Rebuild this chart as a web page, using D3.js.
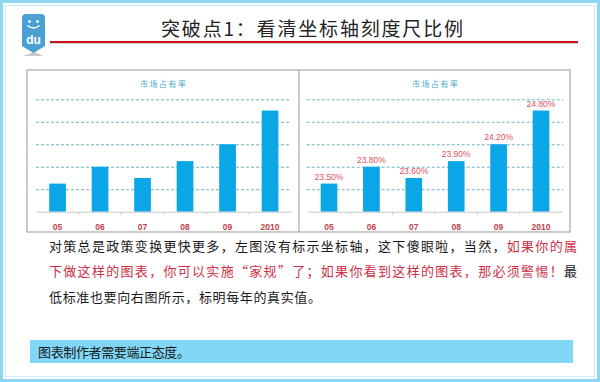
<!DOCTYPE html>
<html><head><meta charset="utf-8">
<script src="https://cdn.jsdelivr.net/npm/d3@7"></script>
<style>
html,body{margin:0;padding:0;background:#fff;}
svg{display:block;font-family:"Noto Sans CJK SC","Noto Sans",sans-serif;}
</style></head>
<body>
<svg id="c" width="600" height="382"></svg>
<script>
// ---- data ----
const categories = ["05","06","07","08","09","2010"];
const shareValues = [23.5, 23.8, 23.6, 23.9, 24.2, 24.8];
const valueLabels = ["23.50%","23.80%","23.60%","23.90%","24.20%","24.80%"];
const gridTicks = [23.4, 23.8, 24.2, 24.6, 25.0];
const yDomain = [23, 25];
const pageTitle = "突破点1：看清坐标轴刻度尺比例";
const chartTitle = "市场占有率";
const paragraph = [
  [["对策总是政策变换更快更多，左图没有标示坐标轴，这下傻眼啦，当然，","k"],["如果你的属","r"]],
  [["下做这样的图表，你可以实施“家规”了；如果你看到这样的图表，那必须警惕！","r"],["最","k"]],
  [["低标准也要向右图所示，标明每年的真实值。","k"]]
];
const noteText = "图表制作者需要端正态度。";

const svg = d3.select("#c");

// outer frame
svg.append("rect").attr("x",1.5).attr("y",1.5).attr("width",597).attr("height",379)
  .attr("fill","none").attr("stroke","#8fd6f2").attr("stroke-width",3);
svg.append("rect").attr("x",5.5).attr("y",5.5).attr("width",589).attr("height",371)
  .attr("fill","none").attr("stroke","#c4ecfa").attr("stroke-width",1);

// logo
const logo = svg.append("g");
logo.append("path").attr("d","M23,56 L33.5,52 L44,56 Z").attr("fill","#c9c9c9");
logo.append("path").attr("d","M22,18 Q22,14 26,14 L41,14 Q45,14 45,18 L45,46 L33.5,53 L22,46 Z").attr("fill","#4aa0d2");
logo.append("circle").attr("cx",29.5).attr("cy",21.5).attr("r",1.4).attr("fill","#fff");
logo.append("circle").attr("cx",37.5).attr("cy",21.5).attr("r",1.4).attr("fill","#fff");
logo.append("path").attr("d","M27.5,25.5 Q33.5,30.5 39.5,25.5").attr("fill","none").attr("stroke","#fff").attr("stroke-width",1.4);
logo.append("text").attr("x",33.5).attr("y",40).attr("text-anchor","middle").attr("dominant-baseline","central")
  .attr("font-family","Arial, Liberation Sans, sans-serif").attr("font-weight","bold").attr("font-size",12).attr("fill","#fff").text("du");

// title + red rule
svg.append("text").attr("x",161).attr("y",27).attr("dominant-baseline","central")
  .attr("font-size",19).attr("fill","#222").attr("textLength",302).attr("lengthAdjust","spacing").text(pageTitle);
svg.append("line").attr("x1",50).attr("x2",578).attr("y1",43.5).attr("y2",43.5).attr("stroke","#d4d4d4").attr("stroke-width",1);
svg.append("line").attr("x1",50).attr("x2",578).attr("y1",42).attr("y2",42).attr("stroke","#c8101a").attr("stroke-width",2);

// chart panels border
svg.append("rect").attr("x",27).attr("y",70).attr("width",543).attr("height",162)
  .attr("fill","#fff").attr("stroke","#a8a8a8").attr("stroke-width",1.2);
svg.append("line").attr("x1",299).attr("x2",299).attr("y1",70).attr("y2",232).attr("stroke","#a8a8a8").attr("stroke-width",1.2);

const y = d3.scaleLinear().domain(yDomain).range([211.7, 99.3]);

function drawChart(x0, x1, gx0, gx1, titleX, showLabels){
  const g = svg.append("g");
  const x = d3.scaleBand().domain(categories).range([x0, x1]).paddingInner(0.607).paddingOuter(0.3035);
  // gridlines
  const grid = g.append("g").attr("transform",`translate(${gx0},0)`)
    .call(d3.axisLeft(y).tickValues(gridTicks).tickSize(-(gx1-gx0)).tickFormat(""));
  grid.select(".domain").remove();
  grid.selectAll(".tick line").attr("stroke","#6fb3bf").attr("stroke-dasharray","3,2").attr("stroke-width",1);
  // bars
  g.selectAll("rect.bar").data(shareValues).join("rect").attr("class","bar")
    .attr("x",(d,i)=>x(categories[i])).attr("width",x.bandwidth())
    .attr("y",d=>y(d)).attr("height",d=>y(yDomain[0])-y(d)).attr("fill","#0aa6e6");
  // baseline axis
  const ax = g.append("g").attr("transform",`translate(0,${y(yDomain[0])})`)
    .call(d3.axisBottom(x).tickSize(0).tickPadding(12).tickSizeOuter(0));
  ax.select(".domain").attr("stroke","#c8c8c8");
  ax.selectAll(".tick text").attr("font-family","Arial, Liberation Sans, sans-serif")
    .attr("font-size",8.5).attr("font-weight","bold").attr("fill","#c2414b");
  // tiny boundary ticks
  g.selectAll("line.bt").data(categories.slice(1)).join("line").attr("class","bt")
    .attr("x1",d=>x(d)-x.step()*x.paddingInner()/2).attr("x2",d=>x(d)-x.step()*x.paddingInner()/2)
    .attr("y1",y(yDomain[0])).attr("y2",y(yDomain[0])+3).attr("stroke","#c8c8c8");
  // chart title
  g.append("text").attr("x",titleX).attr("y",83).attr("text-anchor","middle").attr("dominant-baseline","central")
    .attr("font-size",8).attr("fill","#4aacc6").attr("textLength",46).attr("lengthAdjust","spacing").text(chartTitle);
  if(showLabels){
    g.selectAll("text.vl").data(shareValues).join("text").attr("class","vl")
      .attr("x",(d,i)=>x(categories[i])+x.bandwidth()/2).attr("y",d=>y(d)-7)
      .attr("text-anchor","middle").attr("dominant-baseline","central")
      .attr("font-family","Arial, Liberation Sans, sans-serif").attr("font-size",8.5).attr("fill","#e0505e")
      .text((d,i)=>valueLabels[i]);
  }
}
drawChart(36.3, 291.3, 36, 290, 163, false);
drawChart(307.8, 562.2, 306.7, 563.3, 435, true);

// paragraph
const lineY = [245, 270, 296];
const lineLen = [528, 528, 272];
paragraph.forEach((segs, i) => {
  const t = svg.append("text").attr("x",49).attr("y",lineY[i]).attr("dominant-baseline","central")
    .attr("font-size",13).attr("textLength",lineLen[i]).attr("lengthAdjust","spacing");
  segs.forEach(([s,c]) => t.append("tspan").attr("fill", c==="r" ? "#cf2f45" : "#1a1a1a").text(s));
});

// note box
svg.append("rect").attr("x",30).attr("y",340).attr("width",543).attr("height",23).attr("fill","#80d7f6");
svg.append("text").attr("x",38).attr("y",351.5).attr("dominant-baseline","central")
  .attr("font-size",13).attr("fill","#1a1a1a").attr("textLength",152).attr("lengthAdjust","spacing").text(noteText);
</script>
</body></html>
